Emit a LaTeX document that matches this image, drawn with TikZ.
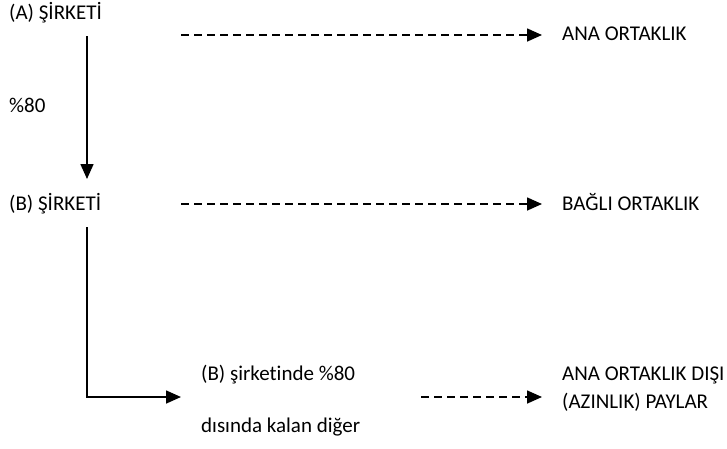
\documentclass[tikz,border=0pt]{standalone}
\usepackage{fontspec}
\setmainfont[Ligatures=NoCommon]{Carlito}
\usetikzlibrary{arrows.meta}
\begin{document}
\begin{tikzpicture}[x=1pt,y=-1pt,
  lbl/.style={anchor=base west,inner sep=0pt,font=\fontsize{21}{25}\selectfont},
  conn/.style={line width=1.6pt,-{Triangle[length=15pt,width=13pt]}},
  dconn/.style={conn,dash pattern=on 7.5pt off 5.5pt},
  plain/.style={line width=1.6pt}]
\useasboundingbox (0,0) rectangle (727,448);
% labels
\node[lbl] (A) at (9,19.5) {(A) ŞİRKETİ};
\node[lbl] (p80) at (9,112.5) {\%80};
\node[lbl] (ana) at (562,40.5) {ANA ORTAKLIK};
\node[lbl] (B) at (9,210) {(B) ŞİRKETİ};
\node[lbl] (bagli) at (562,210) {BAĞLI ORTAKLIK};
\node[lbl] (bsir) at (201,380) {(B) şirketinde \%80};
\node[lbl] (disinda) at (201,432) {dısında kalan diğer};
\node[lbl] (anadisi) at (562,380) {ANA ORTAKLIK DIŞI};
\node[lbl] (azinlik) at (562,408) {(AZINLIK) PAYLAR};
% connector end points
\coordinate (a1) at (87,36);
\coordinate (a2) at (87,179);
\coordinate (d1s) at (181,35);
\coordinate (d1e) at (542,35);
\coordinate (d2s) at (181,204);
\coordinate (d2e) at (542,204);
\coordinate (b1) at (87,227);
\coordinate (b2) at (87,397);
\coordinate (b3) at (181,397);
\coordinate (d3s) at (421,397);
\coordinate (d3e) at (542,397);
% connectors
\draw[conn] (a1) -- (a2);
\draw[dconn] (d1s) -- (d1e);
\draw[dconn] (d2s) -- (d2e);
\draw[conn] (b1) -- (b2) -- (b3);
\draw[dconn] (d3s) -- (d3e);
\end{tikzpicture}
\end{document}
